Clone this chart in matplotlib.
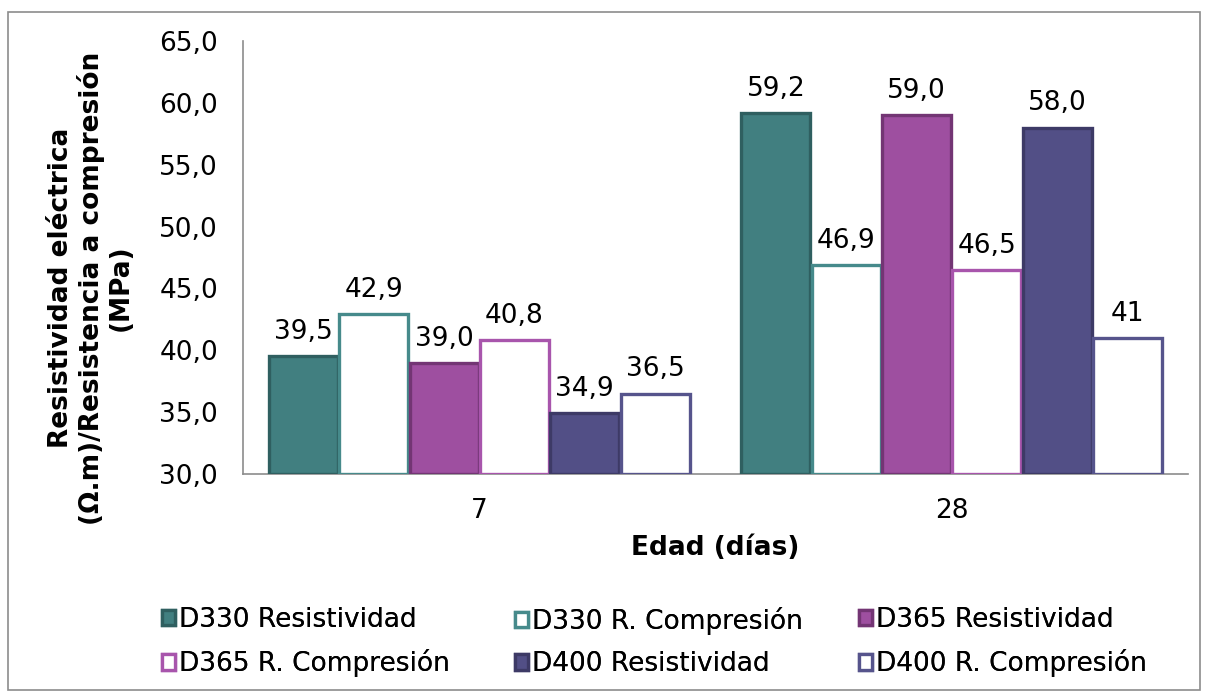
import numpy as np
import matplotlib
matplotlib.use("Agg")
import matplotlib.pyplot as plt
from matplotlib.patches import Rectangle

# data
edades = ["7", "28"]
series = ["D330 Resistividad", "D330 R. Compresión", "D365 Resistividad",
          "D365 R. Compresión", "D400 Resistividad", "D400 R. Compresión"]
d330_res = [39.5, 59.2]
d330_comp = [42.9, 46.9]
d365_res = [39.0, 59.0]
d365_comp = [40.8, 46.5]
d400_res = [34.9, 58.0]
d400_comp = [36.5, 41]
etiquetas = [["39,5", "59,2"], ["42,9", "46,9"], ["39,0", "59,0"],
             ["40,8", "46,5"], ["34,9", "58,0"], ["36,5", "41"]]

valores = [d330_res, d330_comp, d365_res, d365_comp, d400_res, d400_comp]
caras = ["#417f80", "white", "#9e4fa0", "white", "#524f86", "white"]
bordes = ["#2f5f60", "#468a8b", "#733574", "#a855ac", "#3d3a66", "#56548c"]

plt.rcParams['font.family'] = ['DejaVu Sans']
FS = 19

W, H = 1210, 699
fig = plt.figure(figsize=(W/100, H/100), dpi=100)
ax = fig.add_axes([243/W, 1-474/H, (1188-243)/W, (474-41)/H])

x = np.arange(len(edades))
ancho = 0.893 / 6
base = 30
handles = []
for i, (vals, fc, ec) in enumerate(zip(valores, caras, bordes)):
    pos = x - 0.893/2 + ancho*(i+0.5)
    alturas = [v - base for v in vals]
    b = ax.bar(pos, alturas, ancho*0.98, bottom=base, color=fc, edgecolor=ec,
               linewidth=2.4, label=series[i], zorder=3)
    handles.append(b)
    for p, v, t in zip(pos, vals, etiquetas[i]):
        ax.text(p, v + 0.9, t, ha="center", va="bottom", fontsize=FS)

ax.set_xlim(-0.5, 1.5)
ax.set_ylim(30, 65)
ticks = np.arange(30, 66, 5)
ax.set_yticks(ticks)
ax.set_yticklabels([f"{v:.1f}".replace(".", ",") for v in ticks], fontsize=FS)
ax.set_xticks(x)
ax.set_xticklabels(edades, fontsize=FS)
ax.tick_params(axis="x", length=0, pad=17)
ax.tick_params(axis="y", length=0, pad=18)
for s in ["top", "right"]:
    ax.spines[s].set_visible(False)
for s in ["left", "bottom"]:
    ax.spines[s].set_color("#8c8c8c")
    ax.spines[s].set_linewidth(1.2)

ax.set_xlabel("Edad (días)", fontsize=FS, fontweight="bold", labelpad=8)
fig.text(91/W, 1-288/H, "Resistividad eléctrica\n(Ω.m)/Resistencia a compresión\n(MPa)",
         rotation=90, ha="center", va="center", fontsize=FS, fontweight="bold",
         linespacing=1.15, multialignment="center")

# legend: three columns, two rows, placed like the original
columnas = [(0, 3), (1, 4), (2, 5)]
xs = [162, 515, 859]
for (a, b), xc in zip(columnas, xs):
    leg = fig.legend([handles[a], handles[b]], [series[a], series[b]],
                     loc="upper left", bbox_to_anchor=(xc/W, 1-607/H),
                     frameon=False, fontsize=FS, handlelength=0.5,
                     handleheight=0.5, handletextpad=0.15, labelspacing=0.62,
                     borderpad=0, borderaxespad=0)
    fig.add_artist(leg)

fig.patches.append(Rectangle((8/W, 9/H), 1192/W, 678/H,
                             transform=fig.transFigure, fill=False,
                             edgecolor="#8c8c8c", linewidth=1.2))

fig.savefig("out.png", dpi=100)
